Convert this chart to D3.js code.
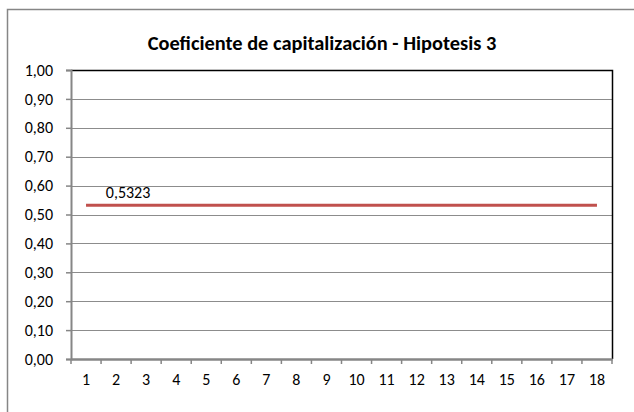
<!DOCTYPE html>
<html>
<head>
<meta charset="utf-8">
<script src="https://cdn.jsdelivr.net/npm/d3@7"></script>
<style>
	html, body { margin: 0; background: #fff; overflow: hidden; }
	svg { display: block; }
	text { font-family: Carlito, Calibri, "Liberation Sans", sans-serif; fill: #000; }
</style>
</head>
<body>
<div id="chart"></div>
<script>
	// datos del grafico
	var categories = d3.range(1, 19);
	var values = [0.5323, 0.5323, 0.5323, 0.5323, 0.5323, 0.5323, 0.5323, 0.5323, 0.5323,
		0.5323, 0.5323, 0.5323, 0.5323, 0.5323, 0.5323, 0.5323, 0.5323, 0.5323];
	var yTicks = [0, 0.1, 0.2, 0.3, 0.4, 0.5, 0.6, 0.7, 0.8, 0.9, 1.0];
	var title = "Coeficiente de capitalización - Hipotesis 3";
	var labelText = "0,5323";

	var w = 634, h = 412;
	var padL = 71, padR = 612, padT = 70, padB = 359;

	var svg = d3.select("#chart").append("svg")
		.attr("width", w)
		.attr("height", h);

	// marco exterior (solo se ven los lados izquierdo y superior)
	svg.append("path")
		.attr("d", "M7.5," + h + "V9.5H" + w)
		.attr("fill", "none")
		.attr("stroke", "#868686")
		.attr("stroke-width", 1.5);

	// titulo
	svg.append("text")
		.attr("x", 322).attr("y", 50)
		.attr("text-anchor", "middle")
		.style("font-weight", "bold")
		.style("font-size", "20.4px")
		.text(title);

	var xScale = d3.scaleBand()
		.domain(categories)
		.range([padL, padR]);

	var yScale = d3.scaleLinear()
		.domain([0, 1])
		.range([padB, padT]);

	// lineas de cuadricula
	svg.append("g")
		.selectAll("line")
		.data(yTicks.slice(1, -1))
		.enter()
		.append("line")
		.attr("x1", padL).attr("x2", padR)
		.attr("y1", function(d) { return Math.round(yScale(d)) + 0.5; })
		.attr("y2", function(d) { return Math.round(yScale(d)) + 0.5; })
		.attr("stroke", "#8c8c8c")
		.attr("stroke-width", 1);

	// borde del area de trazado (arriba y derecha)
	svg.append("path")
		.attr("d", "M" + padL + "," + (padT + 0.5) + "H" + (padR + 0.5) + "V" + padB)
		.attr("fill", "none")
		.attr("stroke", "#000")
		.attr("stroke-width", 1.5);

	// eje Y
	var yAxis = d3.axisLeft(yScale)
		.tickValues(yTicks)
		.tickSize(5)
		.tickPadding(13)
		.tickFormat(function(d) { return d3.format(".2f")(d).replace(".", ","); });

	var yBar = svg.append("g")
		.attr("transform", "translate(" + padL + ",0)")
		.call(yAxis);
	yBar.select(".domain").attr("stroke", "#868686").attr("stroke-width", 2);
	yBar.selectAll(".tick line").attr("stroke", "#868686").attr("stroke-width", 1.5);
	yBar.selectAll("text").style("font-size", "16px").attr("fill", "#000");

	// eje X (marcas entre categorias)
	var xAxis = d3.axisBottom(xScale)
		.tickSize(0)
		.tickPadding(15);

	var xBar = svg.append("g")
		.attr("transform", "translate(0," + padB + ")")
		.call(xAxis);
	xBar.select(".domain").attr("stroke", "#868686").attr("stroke-width", 2.5);
	xBar.selectAll("text").style("font-size", "16px").attr("fill", "#000");

	svg.append("g")
		.selectAll("line")
		.data(categories.concat([19]))
		.enter()
		.append("line")
		.attr("x1", function(d, i) { return padL + i * xScale.step(); })
		.attr("x2", function(d, i) { return padL + i * xScale.step(); })
		.attr("y1", padB)
		.attr("y2", padB + 5)
		.attr("stroke", "#868686")
		.attr("stroke-width", 1.5);

	// serie
	var line = d3.line()
		.x(function(d, i) { return xScale(categories[i]) + xScale.bandwidth() / 2; })
		.y(function(d) { return yScale(d); });

	svg.append("path")
		.attr("d", line(values))
		.attr("fill", "none")
		.attr("stroke", "#c0504d")
		.attr("stroke-width", 3);

	// etiqueta de datos
	svg.append("text")
		.attr("x", xScale(categories[1]) + xScale.bandwidth() / 2 + 12)
		.attr("y", yScale(values[0]) - 7)
		.attr("text-anchor", "middle")
		.style("font-size", "16px")
		.text(labelText);
</script>
</body>
</html>
